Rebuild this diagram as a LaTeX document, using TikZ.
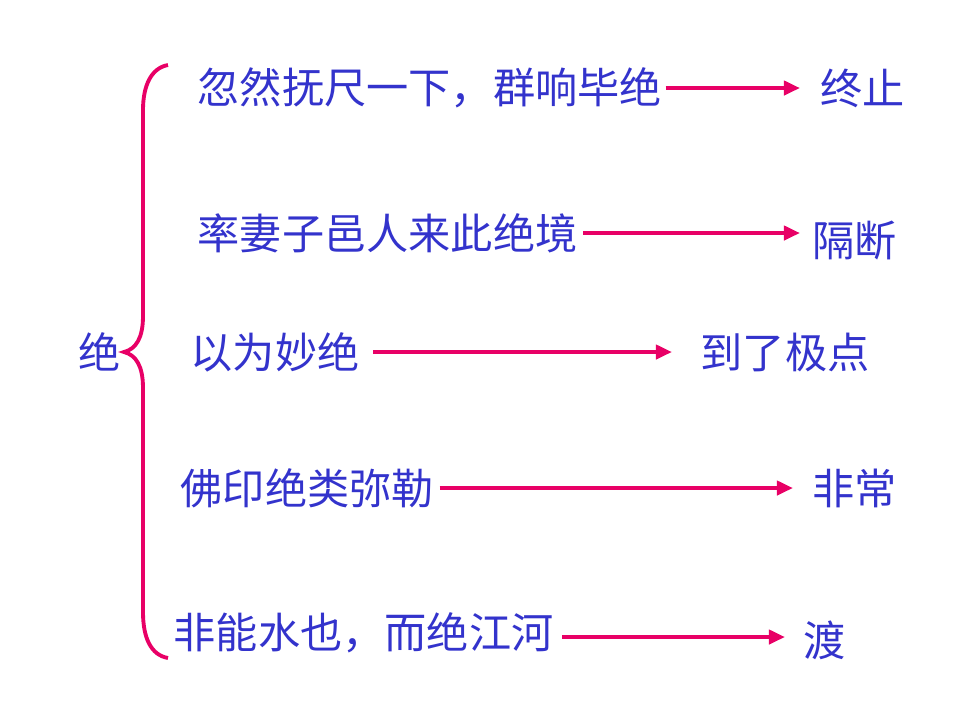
\documentclass[tikz,border=0pt]{standalone}
\usepackage{fontspec}
\setmainfont{Noto Sans CJK SC}
\usetikzlibrary{arrows.meta,positioning}

\definecolor{txtblue}{RGB}{51,51,204}
\definecolor{linkred}{RGB}{232,0,102}

\tikzset{
    item/.style={anchor=west,inner sep=0pt,text=txtblue,font=\fontsize{12}{14}\selectfont},
    link/.style={-{Triangle[length=1.6mm,width=1.4mm]},line width=1.1pt,draw=linkred},
    brace/.style={line width=1.1pt,draw=linkred}
}

\begin{document}
\begin{tikzpicture}[x=0.01cm,y=-0.01cm]
        \useasboundingbox (0,0) rectangle (960,720);

        % Key word
        \node[item] (key) at (78,352) {绝};

        % Brace
        \draw[brace] (168,65) .. controls (151,68) and (143,86) .. (143,110) -- (143,316)
            .. controls (143,338) and (136,349) .. (124,352)
            .. controls (136,355) and (143,366) .. (143,388) -- (143,612)
            .. controls (143,638) and (151,655) .. (168,658);

        % Left side sentences
        \node[item] (sent1) at (197,88) {忽然抚尺一下，群响毕绝};
        \node[item] (sent2) at (197,233) {率妻子邑人来此绝境};
        \node[item] (sent3) at (190,352) {以为妙绝};
        \node[item] (sent4) at (180,488) {佛印绝类弥勒};
        \node[item] (sent5) at (173,633) {非能水也，而绝江河};

        % Right side meanings
        \node[item] (mean1) at (820,88) {终止};
        \node[item] (mean2) at (812,241) {隔断};
        \node[item] (mean3) at (700,352) {到了极点};
        \node[item] (mean4) at (812,488) {非常};
        \node[item] (mean5) at (803,640) {渡};

        % Arrows from sentences to meanings
        \draw[link,shorten <=0.03cm,shorten >=0.2cm] (sent1.east) -- (sent1.east -| mean1.west);
        \draw[link,shorten <=0.05cm,shorten >=0.12cm] (sent2.east) -- (sent2.east -| mean2.west);
        \draw[link,shorten <=0.13cm,shorten >=0.28cm] (sent3.east) -- (sent3.east -| mean3.west);
        \draw[link,shorten <=0.05cm,shorten >=0.19cm] (sent4.east) -- (sent4.east -| mean4.west);
        \draw[link,shorten <=0.08cm,shorten >=0.18cm] ([yshift=-0.04cm]sent5.east) -- ([yshift=-0.04cm]sent5.east -| mean5.west);
\end{tikzpicture}
\end{document}
